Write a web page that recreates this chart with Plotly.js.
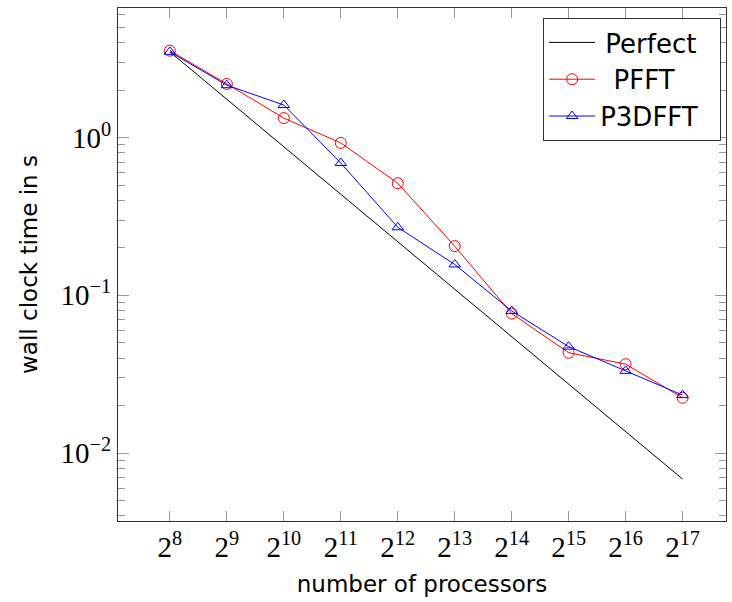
<!DOCTYPE html>
<html>
<head>
<meta charset="utf-8">
<script src="https://cdn.plot.ly/plotly-3.0.1.min.js"></script>
<style>html,body{margin:0;padding:0;background:#fff;}#chart{width:732px;height:602px;}</style>
</head>
<body>
<div id="chart"></div>
<script>
// number of processors (2^k)
const processors = [256, 512, 1024, 2048, 4096, 8192, 16384, 32768, 65536, 131072];
const tickLabels = ["2<sup>8</sup>", "2<sup>9</sup>", "2<sup>10</sup>", "2<sup>11</sup>", "2<sup>12</sup>",
                    "2<sup>13</sup>", "2<sup>14</sup>", "2<sup>15</sup>", "2<sup>16</sup>", "2<sup>17</sup>"];
// wall clock time in s
const perfect = [3.5, 1.75, 0.875, 0.4375, 0.21875, 0.109, 0.0547, 0.0273, 0.0137, 0.00684];
const pfft = [3.56, 2.19, 1.33, 0.926, 0.514, 0.205, 0.0766, 0.0433, 0.0366, 0.0224];
const p3dfft = [3.5, 2.15, 1.61, 0.69, 0.27, 0.157, 0.0796, 0.0473, 0.0332, 0.0233];
const yTickVals = [0.01, 0.1, 1];
const yTickText = ["10<sup>−2</sup>", "10<sup>−1</sup>", "10<sup>0</sup>"];
// legend names (padded with spaces so the texts sit centred like the reference)
const seriesNames = ["\u2009Perfect\u2009", "\u00a0\u2009PFFT\u00a0\u2009", "P3DFFT\u00a0\u00a0"];

const traces = [
  {x: processors, y: perfect, name: seriesNames[0], mode: "lines", type: "scatter",
   line: {color: "#000000", width: 1}},
  {x: processors, y: pfft, name: seriesNames[1], mode: "lines+markers", type: "scatter",
   line: {color: "#ff0000", width: 1},
   marker: {symbol: "circle-open", size: 11, color: "#ff0000", line: {width: 1, color: "#ff0000"}}},
  {x: processors, y: p3dfft, name: seriesNames[2], mode: "lines+markers", type: "scatter",
   line: {color: "#0000ff", width: 1},
   marker: {symbol: "triangle-up-open", size: 10, color: "#0000ff", line: {width: 1, color: "#0000ff"}}}
];

const layout = {
  width: 732, height: 602,
  margin: {l: 118, r: 6, t: 8, b: 81},
  paper_bgcolor: "#ffffff", plot_bgcolor: "#ffffff",
  showlegend: true,
  legend: {x: 0.992, y: 0.9805, xanchor: "right", yanchor: "top",
           bordercolor: "#333333", borderwidth: 1, bgcolor: "#ffffff",
           font: {family: "DejaVu Sans", size: 26, color: "#000"},
           itemwidth: 46, tracegroupgap: 0},
  xaxis: {type: "log", range: [2.134, 5.347],
          tickvals: processors, ticktext: tickLabels,
          ticks: "inside", ticklen: 10, tickcolor: "#999999", tickwidth: 1,
          showline: true, linecolor: "#333333", linewidth: 1, mirror: "ticks",
          showgrid: false, zeroline: false,
          tickfont: {family: "Liberation Serif", size: 29, color: "#000"},
          title: {text: "number of processors", font: {family: "DejaVu Sans", size: 23, color: "#000"}, standoff: 14}},
  yaxis: {type: "log", range: [-2.431, 0.822],
          tickvals: yTickVals, ticktext: yTickText,
          ticks: "inside", ticklen: 11, tickcolor: "#999999", tickwidth: 1,
          minor: {ticks: "inside", ticklen: 7, tickcolor: "#999999", tickwidth: 1, dtick: "D1", showgrid: false},
          showline: true, linecolor: "#333333", linewidth: 1, mirror: "ticks",
          showgrid: false, zeroline: false,
          tickfont: {family: "Liberation Serif", size: 29, color: "#000"},
          title: {text: "wall clock time in s", font: {family: "DejaVu Sans", size: 23, color: "#000"}, standoff: 16}}
};

Plotly.newPlot("chart", traces, layout, {displayModeBar: false, staticPlot: true});
</script>
</body>
</html>
